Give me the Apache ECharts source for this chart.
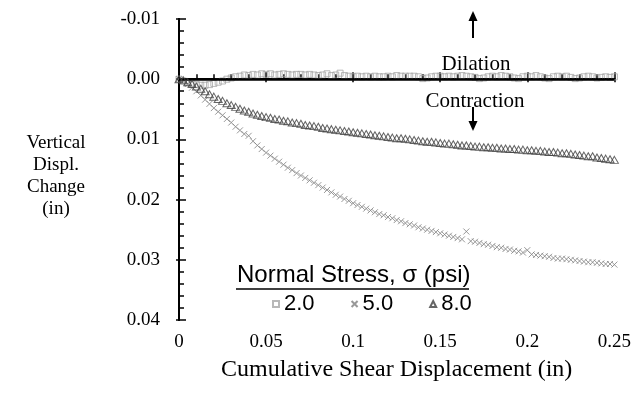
<!DOCTYPE html>
<html><head><meta charset="utf-8">
<script src="https://cdn.jsdelivr.net/npm/echarts@6/dist/echarts.min.js"></script>
<style>html,body{margin:0;padding:0;background:#fff}#c{width:634px;height:394px}</style>
</head><body><div id="c"></div>
<script>
const shearDisp = [0,0.0025,0.005,0.0075,0.01,0.0125,0.015,0.0175,0.02,0.0225,0.025,0.0275,0.03,0.0325,0.035,0.0375,0.04,0.0425,0.045,0.0475,0.05,0.0525,0.055,0.0575,0.06,0.0625,0.065,0.0675,0.07,0.0725,0.075,0.0775,0.08,0.0825,0.085,0.0875,0.09,0.0925,0.095,0.0975,0.1,0.1025,0.105,0.1075,0.11,0.1125,0.115,0.1175,0.12,0.1225,0.125,0.1275,0.13,0.1325,0.135,0.1375,0.14,0.1425,0.145,0.1475,0.15,0.1525,0.155,0.1575,0.16,0.1625,0.165,0.1675,0.17,0.1725,0.175,0.1775,0.18,0.1825,0.185,0.1875,0.19,0.1925,0.195,0.1975,0.2,0.2025,0.205,0.2075,0.21,0.2125,0.215,0.2175,0.22,0.2225,0.225,0.2275,0.23,0.2325,0.235,0.2375,0.24,0.2425,0.245,0.2475,0.25];
const vert2 = [0,0.0003,0.0006,0.0008,0.0009,0.0010,0.0010,0.0009,0.0007,0.0005,0.0003,0.0000,-0.0002,-0.0004,-0.0005,-0.0007,-0.0006,-0.0008,-0.0007,-0.0009,-0.0008,-0.0009,-0.0007,-0.0008,-0.0009,-0.0008,-0.0007,-0.0008,-0.0008,-0.0007,-0.0008,-0.0007,-0.0006,-0.0007,-0.0009,-0.0006,-0.0007,-0.0010,-0.0006,-0.0005,-0.0004,-0.0005,-0.0004,-0.0005,-0.0004,-0.0005,-0.0004,-0.0004,-0.0005,-0.0004,-0.0006,-0.0005,-0.0005,-0.0005,-0.0005,-0.0004,-0.0001,-0.0002,-0.0004,-0.0005,-0.0005,-0.0004,-0.0005,-0.0004,-0.0005,-0.0006,-0.0005,-0.0004,-0.0003,-0.0001,-0.0002,-0.0004,-0.0005,-0.0004,-0.0006,-0.0005,-0.0004,-0.0002,-0.0001,-0.0004,-0.0005,-0.0004,-0.0006,-0.0004,-0.0002,-0.0001,-0.0004,-0.0005,-0.0004,-0.0005,-0.0003,-0.0001,-0.0002,-0.0004,-0.0005,-0.0004,-0.0002,-0.0003,-0.0004,-0.0003,-0.0004];
const vert5 = [0,0.0003,0.0008,0.0014,0.0020,0.0027,0.0034,0.0041,0.0048,0.0054,0.0060,0.0066,0.0072,0.0079,0.0085,0.0091,0.0094,0.0103,0.0110,0.0116,0.0122,0.0127,0.0132,0.0137,0.0142,0.0147,0.0151,0.0156,0.0160,0.0164,0.0168,0.0172,0.0176,0.0180,0.0184,0.0188,0.0192,0.0195,0.0199,0.0202,0.0206,0.0209,0.0212,0.0215,0.0218,0.0221,0.0224,0.0226,0.0229,0.0231,0.0234,0.0236,0.0239,0.0241,0.0243,0.0246,0.0248,0.0250,0.0252,0.0254,0.0256,0.0258,0.0260,0.0262,0.0264,0.0266,0.0253,0.0269,0.0270,0.0272,0.0274,0.0275,0.0277,0.0279,0.0280,0.0282,0.0283,0.0285,0.0286,0.0288,0.0284,0.0291,0.0292,0.0293,0.0294,0.0295,0.0297,0.0298,0.0298,0.0299,0.0300,0.0301,0.0302,0.0303,0.0304,0.0304,0.0305,0.0306,0.0307,0.0307,0.0308];
const vert8 = [0,0.0002,0.0005,0.0008,0.0012,0.0016,0.0020,0.0025,0.0029,0.0033,0.0036,0.0040,0.0043,0.0046,0.0049,0.0052,0.0054,0.0057,0.0059,0.0061,0.0063,0.0064,0.0066,0.0067,0.0069,0.0070,0.0072,0.0073,0.0074,0.0076,0.0077,0.0078,0.0079,0.0081,0.0082,0.0083,0.0084,0.0085,0.0086,0.0087,0.0088,0.0089,0.0090,0.0091,0.0092,0.0093,0.0094,0.0095,0.0096,0.0097,0.0098,0.0098,0.0099,0.0100,0.0101,0.0102,0.0103,0.0104,0.0104,0.0105,0.0106,0.0107,0.0107,0.0108,0.0109,0.0110,0.0110,0.0111,0.0112,0.0112,0.0113,0.0113,0.0114,0.0114,0.0115,0.0115,0.0116,0.0116,0.0117,0.0117,0.0118,0.0118,0.0119,0.0119,0.0120,0.0121,0.0121,0.0122,0.0123,0.0123,0.0124,0.0125,0.0126,0.0127,0.0128,0.0128,0.0130,0.0131,0.0132,0.0133,0.0134];
const seriesNames = ['2.0','5.0','8.0'];
const xTickLabels = ['0','0.05','0.1','0.15','0.2','0.25'];
const yTickLabels = ['-0.01','0.00','0.01','0.02','0.03','0.04'];

const pair = ys => shearDisp.map((x,i)=>[x,ys[i]]);
const serif = 'Liberation Serif';
const sans = 'Liberation Sans';
const chart = echarts.init(document.getElementById('c'), null, {renderer:'canvas'});
const axisCommon = {
  type:'value', splitLine:{show:false},
  axisLine:{lineStyle:{color:'#000',width:2}}
};
chart.setOption({
  animation:false,
  backgroundColor:'#fff',
  grid:{left:179,right:19,top:19,bottom:74},
  xAxis:[
    Object.assign({}, axisCommon, {
      min:0,max:0.25,interval:0.05,
      axisTick:{inside:true,length:7,lineStyle:{color:'#000',width:1.5}},
      minorTick:{show:true,splitNumber:5,length:5,lineStyle:{color:'#000',width:1.5}},
      axisLabel:{margin:13,fontFamily:serif,fontSize:19,color:'#000',formatter:(v,i)=>xTickLabels[i]},
      name:'Cumulative Shear Displacement (in)',nameLocation:'middle',nameGap:38,
      nameTextStyle:{fontFamily:serif,fontSize:24,color:'#000'}
    }),
    Object.assign({}, axisCommon, {
      min:0,max:0.25,interval:0.05,position:'bottom',
      axisTick:{inside:false,length:3,lineStyle:{color:'#000',width:1.5}},
      axisLabel:{show:false}
    })
  ],
  yAxis:[
    Object.assign({}, axisCommon, {
      min:-0.01,max:0.04,interval:0.01,inverse:true,
      axisTick:{inside:true,length:7,lineStyle:{color:'#000',width:1.5}},
      minorTick:{show:true,splitNumber:5,length:5,lineStyle:{color:'#000',width:1.5}},
      axisLabel:{margin:19,fontFamily:serif,fontSize:19,color:'#000',formatter:(v,i)=>yTickLabels[i]}
    }),
    Object.assign({}, axisCommon, {
      min:-0.01,max:0.04,interval:0.01,inverse:true,position:'left',
      axisTick:{inside:false,length:3,lineStyle:{color:'#000',width:1.5}},
      axisLabel:{show:false}
    })
  ],
  legend:{
    left:267,top:288,orient:'horizontal',itemGap:36,itemWidth:6,itemHeight:6,
    textStyle:{fontFamily:sans,fontSize:22,color:'#000'},
    data:seriesNames
  },
  series:[
    {name:seriesNames[0],type:'scatter',data:pair(vert2),symbol:'rect',symbolSize:6,
     itemStyle:{color:'rgba(255,255,255,0)',borderColor:'#a6a6a6',borderWidth:1},
     markLine:{silent:true,symbol:['none','none'],label:{show:false},
       lineStyle:{color:'#000',width:2.5,type:'solid'},data:[{yAxis:0}]},
     z:3},
    {name:seriesNames[1],type:'scatter',data:pair(vert5),symbol:'path://M0,0L10,10M10,0L0,10',symbolSize:6,
     itemStyle:{color:'rgba(255,255,255,0)',borderColor:'#7f7f7f',borderWidth:1},z:4},
    {name:seriesNames[2],type:'scatter',data:pair(vert8),symbol:'triangle',symbolSize:[8,7],
     itemStyle:{color:'rgba(255,255,255,0)',borderColor:'#404040',borderWidth:1},z:5}
  ],
  graphic:[
    {type:'text',x:56,y:132,style:{text:'Vertical\nDispl.\nChange\n(in)',fontFamily:serif,fontSize:19,lineHeight:22,fill:'#000',align:'center',verticalAlign:'top'}},
    {type:'text',left:237,top:263,style:{text:'Normal Stress, σ (psi)',fontFamily:sans,fontSize:24,fill:'#000'}},
    {type:'line',shape:{x1:236,y1:289,x2:469,y2:289},style:{stroke:'#000',lineWidth:1.5}},
    {type:'text',x:476,y:64,style:{text:'Dilation',fontFamily:serif,fontSize:21,fill:'#000',align:'center',verticalAlign:'middle'}},
    {type:'text',x:475,y:101,style:{text:'Contraction',fontFamily:serif,fontSize:21,fill:'#000',align:'center',verticalAlign:'middle'}},
    {type:'line',shape:{x1:473,y1:38,x2:473,y2:20},style:{stroke:'#000',lineWidth:2}},
    {type:'polygon',shape:{points:[[473,11],[468.5,21],[477.5,21]]},style:{fill:'#000'}},
    {type:'line',shape:{x1:473,y1:107,x2:473,y2:122},style:{stroke:'#000',lineWidth:2}},
    {type:'polygon',shape:{points:[[473,131],[468.5,121],[477.5,121]]},style:{fill:'#000'}}
  ]
});
</script></body></html>
